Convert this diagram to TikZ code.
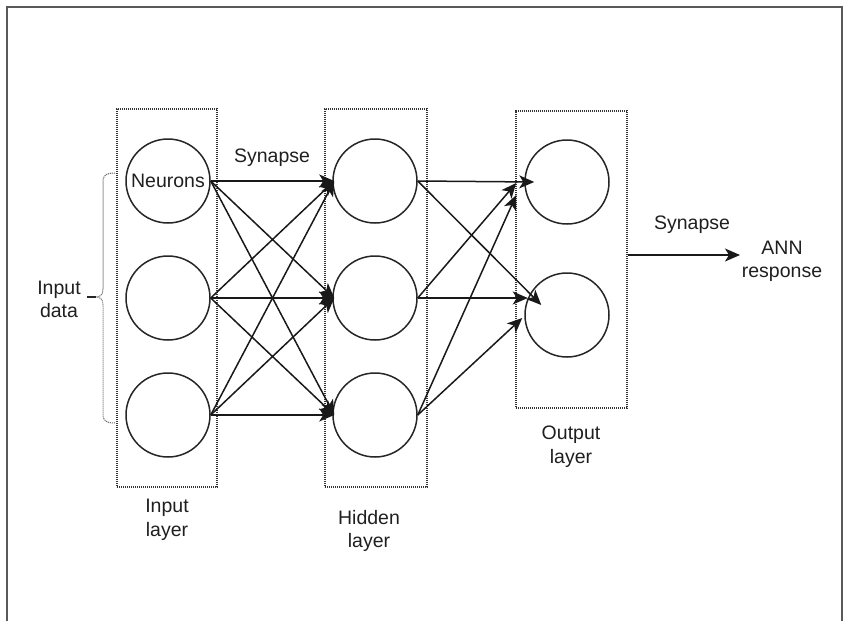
\documentclass[tikz,border=0pt]{standalone}
\usepackage{fontspec}
\setmainfont{Liberation Sans}
\usetikzlibrary{arrows.meta,calc}
\begin{document}
\begin{tikzpicture}[x=1pt,y=-1pt,
  every node/.style={font=\fontsize{19.5}{23.5}\selectfont, text=black!88},
  neuron/.style={draw=black!85, line width=1.5pt, circle, minimum size=84pt, inner sep=0pt},
  layerbox/.style={draw=black!80, line width=1.1pt, dash pattern=on 1.1pt off 0.9pt, rectangle, inner sep=0pt},
  synapse/.style={draw=black!90, line width=1.5pt, -{Stealth[length=15pt,width=13pt,inset=4pt]}},
  lbl/.style={align=center, inner sep=0pt}]
\useasboundingbox (0,0) rectangle (848,621);

% outer frame
\draw[black!65, line width=1.3pt] (7,621) -- (7,7) -- (842,7) -- (842,621);

% layer boxes
\node[layerbox, minimum width=100pt, minimum height=378pt] (ibox) at (167,298) {};
\node[layerbox, minimum width=102pt, minimum height=378pt] (hbox) at (376,298) {};
\node[layerbox, minimum width=111pt, minimum height=297pt] (obox) at (571.5,259.5) {};

% neurons
\node[neuron] (i1) at (168,181) {Neurons};
\node[neuron] (i2) at (168,298) {};
\node[neuron] (i3) at (168,415) {};
\node[neuron] (h1) at (375,181) {};
\node[neuron] (h2) at (375,298) {};
\node[neuron] (h3) at (375,415) {};
\node[neuron] (o1) at (567,182) {};
\node[neuron] (o2) at (567,315) {};

% input -> hidden synapses
\foreach \a in {i1,i2,i3}
  \foreach \b in {h1,h2,h3}
    \draw[synapse] (\a.east) -- ($(\b.west)+(2,0)$);

% hidden -> output synapses
\draw[synapse] (h1.east) -- ($(o1.west)+(10,0)$);
\draw[synapse] (h2.east) -- ($(o1.west)+(-8,1)$);
\draw[synapse] (h3.east) -- ($(o1.west)+(-8,13)$);
\draw[synapse] (h1.east) -- ($(o2.west)+(17,-10)$);
\draw[synapse] (h2.east) -- ($(h2.east)+(110,0)$);
\draw[synapse] (h3.east) -- ($(o2.west)+(-2,3)$);

% network response
\coordinate (resp) at (740,255);
\draw[synapse] (obox.east |- resp) -- (resp);

% input data brace
\draw[black!60, line width=1pt, dash pattern=on 1.1pt off 0.9pt]
  (115,173) .. controls (106,173) and (103,175) .. (103,182) -- (103,289)
  .. controls (103,295) and (100,297) .. (96,297)
  .. controls (100,297) and (103,299) .. (103,305) -- (103,414)
  .. controls (103,421) and (106,423) .. (115,423);
\draw[black!85, line width=1.3pt] (87,297) -- (96,297);

% labels
\node[lbl] (indata) at (59,299.5) {Input\\data};
\node[lbl] (syn1) at (272,158) {Synapse};
\node[lbl] (syn2) at (692,225) {Synapse};
\node[lbl] (ann) at (782,261.5) {ANN\\response};
\node[lbl] (ilab) at (167,520) {Input\\layer};
\node[lbl] (hlab) at (369,531) {Hidden\\layer};
\node[lbl] (olab) at (571,446.5) {Output\\layer};
\end{tikzpicture}
\end{document}
